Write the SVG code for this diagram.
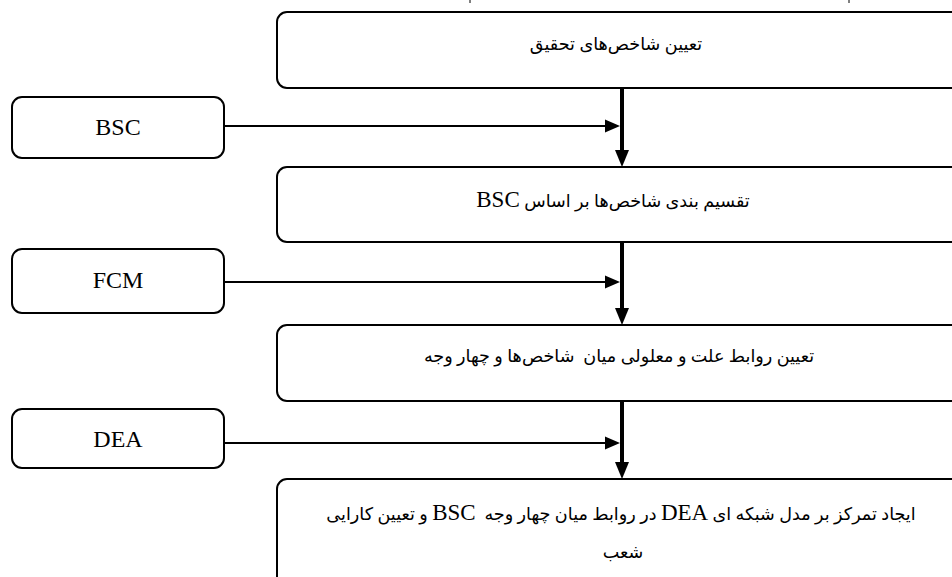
<svg xmlns="http://www.w3.org/2000/svg" width="952" height="577" viewBox="0 0 952 577">
<style>
.box{fill:#fff;stroke:#000;stroke-width:2}
.t{font-family:"Liberation Serif","DejaVu Sans",serif;font-size:17.6px;fill:#000;text-anchor:middle}
.lat{font-family:"Liberation Serif",serif;font-size:24px;fill:#000;text-anchor:middle}
.main{stroke:#000;stroke-width:4;fill:none}
.side{stroke:#000;stroke-width:1.8;fill:none}
.tick{stroke:#000;stroke-width:1}
</style>
<defs>
<marker id="big" markerUnits="userSpaceOnUse" markerWidth="18" markerHeight="16" refX="0" refY="8" orient="auto" viewBox="0 0 18 16">
<path d="M0,1 L17,8 L0,15 z" fill="#000"/>
</marker>
<marker id="small" markerUnits="userSpaceOnUse" markerWidth="16" markerHeight="14" refX="0" refY="7" orient="auto" viewBox="0 0 16 14">
<path d="M0,0.5 L15,7 L0,13.5 z" fill="#000"/>
</marker>
</defs>
<line class="tick" x1="470" y1="0" x2="470" y2="3"/>
<line class="tick" x1="849" y1="0" x2="849" y2="3"/>
<g id="connectors">
<line class="main" x1="622" y1="88" x2="622" y2="150" marker-end="url(#big)"/>
<line class="main" x1="622" y1="242" x2="622" y2="308" marker-end="url(#big)"/>
<line class="main" x1="622" y1="401" x2="622" y2="462" marker-end="url(#big)"/>
<line class="side" x1="224" y1="126" x2="605" y2="126" marker-end="url(#small)"/>
<line class="side" x1="224" y1="282" x2="605" y2="282" marker-end="url(#small)"/>
<line class="side" x1="224" y1="443" x2="605" y2="443" marker-end="url(#small)"/>
</g>
<g id="n1">
<rect class="box" x="277" y="12" width="690" height="76" rx="10"/>
<text class="t" x="616" y="50" direction="rtl">تعیین شاخص&#8204;های تحقیق</text>
</g>
<g id="n2">
<rect class="box" x="277" y="167" width="690" height="75" rx="10"/>
<text class="t" x="613" y="207" direction="rtl">تقسیم بندی شاخص&#8204;ها بر اساس <tspan font-family="Liberation Serif" font-size="23">BSC</tspan></text>
</g>
<g id="n3">
<rect class="box" x="277" y="325" width="690" height="76" rx="10"/>
<text class="t" x="619" y="362" direction="rtl" xml:space="preserve">تعیین روابط علت و معلولی میان  شاخص&#8204;ها و چهار وجه</text>
</g>
<g id="n4">
<rect class="box" x="277" y="479" width="690" height="120" rx="10"/>
<text class="t" x="621" y="520" direction="rtl" xml:space="preserve">ایجاد تمرکز بر مدل شبکه ای <tspan font-family="Liberation Serif" font-size="23">DEA</tspan> در روابط میان چهار وجه  <tspan font-family="Liberation Serif" font-size="23">BSC</tspan> و تعیین کارایی</text>
<text class="t" x="623" y="558" direction="rtl">شعب</text>
</g>
<g id="bsc">
<rect class="box" x="12" y="97" width="212" height="61" rx="10"/>
<text class="lat" x="118" y="135">BSC</text>
</g>
<g id="fcm">
<rect class="box" x="12" y="249" width="212" height="64" rx="10"/>
<text class="lat" x="118" y="288">FCM</text>
</g>
<g id="dea">
<rect class="box" x="12" y="409" width="212" height="59" rx="10"/>
<text class="lat" x="118" y="447">DEA</text>
</g>
</svg>
